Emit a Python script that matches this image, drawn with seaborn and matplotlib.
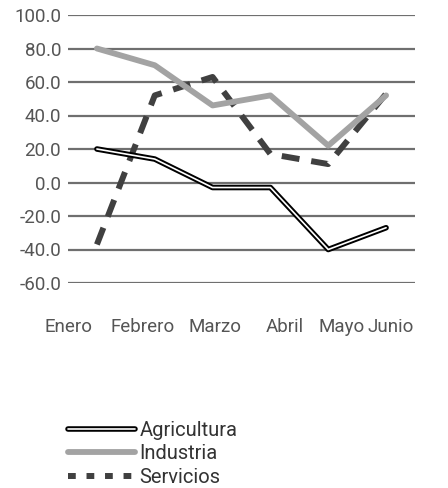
import numpy as np
import pandas as pd
import seaborn as sns
import matplotlib.pyplot as plt
import matplotlib.transforms as mtrans
from matplotlib.lines import Line2D

meses = ["Enero", "Febrero", "Marzo", "Abril", "Mayo", "Junio"]
agricultura = [20, 14, -3, -3, -40, -27]
industria = [80, 70, 46, 52, 22, 52]
servicios = [-37, 52, 63, 17, 11, 53]

sns.set_style("white")
plt.rcParams['font.family'] = ['Roboto', 'DejaVu Sans']

fig = plt.figure(figsize=(4.48, 4.88), dpi=100)
ax = fig.add_axes([68/448, 1 - 283/488, (415-68)/448, (283-15)/488])

data = pd.DataFrame({"mes": meses, "Agricultura": agricultura,
                     "Industria": industria, "Servicios": servicios})
x = np.arange(len(meses))
data["x"] = x

for v in np.arange(-60, 101, 20):
    ax.axhline(v, color="#6f6f6f", lw=1.6, zorder=0)

sns.lineplot(data=data, x="x", y="Agricultura", ax=ax, color="black", lw=4.0, zorder=3)
sns.lineplot(data=data, x="x", y="Agricultura", ax=ax, color="white", lw=1.2, zorder=4)
sns.lineplot(data=data, x="x", y="Industria", ax=ax, color="#a3a3a3", lw=4.2,
             solid_capstyle="round", zorder=2)
sns.lineplot(data=data, x="x", y="Servicios", ax=ax, color="#404040", lw=4.3,
             dashes=(3, 2), zorder=1)

ax.set_xlim(-0.5, len(meses) - 0.5)
ax.set_ylim(-60, 100)
ax.set_yticks(np.arange(-60, 101, 20))
ax.set_yticklabels([f"{v:.1f}" for v in np.arange(-60, 101, 20)])
ax.set_xticks(x)
ax.set_xticklabels(meses)
ax.tick_params(axis="both", length=0, labelsize=13.5, colors="#555555")
ax.tick_params(axis="x", pad=25)
ax.tick_params(axis="y", pad=5)
ax.set_xlabel("")
ax.set_ylabel("")
for s in ax.spines.values():
    s.set_visible(False)

# the category labels sit slightly shifted, as in the original
shifts = [-28, -12, 2, 14, 13, 5]
for lab, dx in zip(ax.get_xticklabels(), shifts):
    lab.set_transform(lab.get_transform() + mtrans.ScaledTranslation(dx / 100, 0, fig.dpi_scale_trans))

h_agr = (Line2D([], [], color="black", lw=4.0), Line2D([], [], color="white", lw=1.2))
h_ind = Line2D([], [], color="#a3a3a3", lw=4.2, solid_capstyle="round")
h_ser = Line2D([], [], color="#404040", lw=4.3, dashes=(1.3, 1.8))
leg = fig.legend([h_agr, h_ind, h_ser], ["Agricultura", "Industria", "Servicios"],
                 loc="upper left", bbox_to_anchor=(60/448, 1 - 413/488), frameon=False,
                 fontsize=14.5, handlelength=3.3, handletextpad=0.25, labelspacing=0.22,
                 borderaxespad=0)
for t in leg.get_texts():
    t.set_color("#333333")

fig.savefig("out.png", dpi=100)
